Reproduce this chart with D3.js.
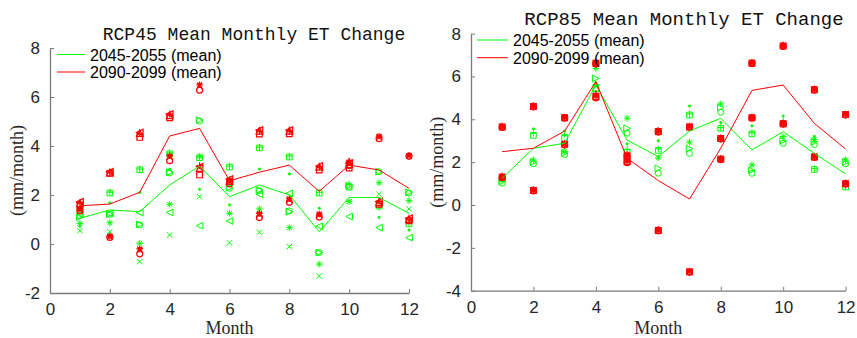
<!DOCTYPE html>
<html>
<head>
<meta charset="utf-8">
<script src="https://cdn.jsdelivr.net/npm/d3@7/dist/d3.min.js"></script>
<style>
	body { margin: 0; background: #fff; }
	svg { display: block; }
</style>
</head>
<body>
<div id="chart"></div>
<script>

// ---- data ----
var months = [1, 2, 3, 4, 5, 6, 7, 8, 9, 10, 11, 12];
var xTicks = [0, 2, 4, 6, 8, 10, 12];
var yTicks45 = [-2, 0, 2, 4, 6, 8];
var yTicks85 = [-4, -2, 0, 2, 4, 6, 8];
var legendLabels = ["2045-2055 (mean)", "2090-2099 (mean)"];

// RCP45, 2045-2055 (one row per model / marker)
var green45Markers = ["+", "s", "o", ".", ">", "<", "*", "x"];
var green45Values = [
	[1.42, 2.12, 3.06, 3.72, 3.56, 3.18, 3.95, 3.59, 2.11, 2.45, 1.50, 0.86],
	[1.38, 2.08, 3.03, 3.68, 3.52, 3.14, 3.92, 3.55, 2.08, 2.32, 1.55, 0.82],
	[1.15, 1.21, 0.78, 2.90, 5.02, 2.27, 2.17, 1.35, -0.35, 2.35, 2.95, 2.08],
	[0.72, 1.68, 2.10, 3.05, 2.23, 1.60, 3.06, 2.86, 1.46, 2.45, 1.09, 0.57],
	[1.10, 1.22, 0.80, 2.93, 5.06, 2.30, 2.20, 1.32, -0.35, 2.38, 2.95, 2.11],
	[1.20, 1.25, 1.28, 1.29, 0.75, 0.94, 2.03, 2.07, 0.73, 1.12, 0.67, 0.26],
	[0.84, 0.87, 0.03, 1.62, 3.56, 1.25, 1.43, 0.67, -0.82, 1.73, 2.50, 1.77],
	[0.54, 0.50, -0.72, 0.37, 1.93, 0.05, 0.48, -0.11, -1.31, 1.73, 2.03, 1.43]
];
var green45Mean = [1.05, 1.39, 1.32, 2.41, 3.18, 1.93, 2.41, 2.00, 0.50, 1.90, 1.90, 1.25];

// RCP45, 2090-2099
var red45Markers = ["+", "s", "<", "^", "*", "o", "x"];
var red45Values = [
	[1.68, 2.93, 4.50, 5.30, 3.20, 2.62, 4.60, 4.60, 3.15, 3.38, 1.75, 1.00],
	[1.58, 2.88, 4.35, 5.15, 2.82, 2.55, 4.49, 4.50, 3.02, 3.10, 1.62, 0.95],
	[1.72, 2.95, 4.55, 5.30, 3.15, 2.65, 4.65, 4.65, 3.18, 3.30, 1.73, 1.05],
	[1.66, 2.92, 4.52, 5.25, 3.10, 2.58, 4.62, 4.62, 3.15, 3.25, 1.70, 1.02],
	[1.42, 0.32, -0.20, 3.60, 6.50, 2.60, 1.25, 1.85, 1.22, 3.35, 4.40, 3.62],
	[1.35, 0.27, -0.40, 3.40, 6.28, 2.45, 1.08, 1.70, 1.10, 3.20, 4.30, 3.58],
	[1.40, 0.30, -0.25, 3.55, 6.45, 2.55, 1.20, 1.80, 1.18, 3.30, 4.36, 3.60]
];
var red45Mean = [1.56, 1.63, 2.11, 4.41, 4.72, 2.58, 2.93, 3.22, 2.15, 3.22, 3.02, 2.27];

// RCP85, 2045-2055
var green85Markers = ["+", "s", ".", "*", ">", "o"];
var green85Values = [
	[1.32, 3.35, 3.30, 5.62, 2.60, 2.62, 4.25, 3.62, 3.38, 3.90, 1.70, 0.88],
	[1.22, 3.25, 3.11, 5.45, 2.45, 2.55, 4.20, 3.58, 3.32, 3.80, 1.66, 0.84],
	[1.38, 3.55, 3.45, 5.70, 2.85, 3.00, 4.62, 3.85, 3.69, 4.15, 3.20, 2.15],
	[1.20, 2.10, 2.50, 6.38, 4.05, 2.20, 2.93, 4.72, 1.87, 3.19, 3.05, 2.10],
	[1.10, 2.00, 2.42, 5.91, 3.58, 1.71, 2.63, 4.55, 1.62, 3.00, 2.95, 2.00],
	[1.02, 1.92, 2.35, 5.40, 3.35, 1.48, 2.41, 4.33, 1.48, 2.88, 2.82, 1.92]
];
var green85Mean = [1.25, 2.65, 2.88, 5.60, 3.03, 2.26, 3.45, 4.05, 2.57, 3.42, 2.41, 1.45];

// RCP85, 2090-2099 (two models, several members each)
var red85Markers = ["+", "o", "*", "s", "x", "+", "o", "*", "s", "x"];
var red85Values = [
	[3.66, 4.62, 4.09, 6.64, 2.30, 3.45, 3.66, 3.11, 6.64, 7.44, 5.40, 4.23],
	[3.62, 4.58, 4.05, 6.58, 2.25, 3.40, 3.62, 3.08, 6.60, 7.40, 5.36, 4.20],
	[3.68, 4.64, 4.11, 6.66, 2.35, 3.47, 3.68, 3.13, 6.66, 7.46, 5.42, 4.25],
	[3.64, 4.60, 4.07, 6.62, 2.28, 3.43, 3.64, 3.10, 6.62, 7.42, 5.38, 4.22],
	[3.65, 4.61, 4.08, 6.61, 2.32, 3.44, 3.65, 3.12, 6.63, 7.43, 5.39, 4.24],
	[1.32, 0.70, 2.85, 5.20, 2.05, -1.17, -3.11, 2.15, 4.09, 3.81, 2.26, 1.01],
	[1.28, 0.66, 2.80, 5.00, 1.98, -1.21, -3.14, 2.12, 4.05, 3.77, 2.22, 0.98],
	[1.35, 0.72, 2.88, 5.10, 2.10, -1.14, -3.08, 2.17, 4.11, 3.83, 2.28, 1.03],
	[1.30, 0.68, 2.83, 5.05, 2.02, -1.19, -3.12, 2.14, 4.07, 3.79, 2.24, 0.99],
	[1.31, 0.69, 2.84, 5.12, 2.06, -1.18, -3.10, 2.16, 4.08, 3.80, 2.25, 1.00]
];
var red85Mean = [2.49, 2.65, 3.45, 5.76, 2.18, 1.14, 0.28, 2.65, 5.35, 5.60, 3.81, 2.61];


/*
 * MATLAB style line markers as custom d3 symbol types
 */
var markerTypes = {
	"+": { draw: function(c, s){ var r = Math.sqrt(s);
		c.moveTo(-r, 0); c.lineTo(r, 0); c.moveTo(0, -r); c.lineTo(0, r); } },
	"x": { draw: function(c, s){ var r = Math.sqrt(s) * 0.8;
		c.moveTo(-r, -r); c.lineTo(r, r); c.moveTo(-r, r); c.lineTo(r, -r); } },
	"*": { draw: function(c, s){ var r = Math.sqrt(s), q = r * 0.7;
		c.moveTo(-r, 0); c.lineTo(r, 0); c.moveTo(0, -r); c.lineTo(0, r);
		c.moveTo(-q, -q); c.lineTo(q, q); c.moveTo(-q, q); c.lineTo(q, -q); } },
	"o": { draw: function(c, s){ var r = Math.sqrt(s) * 0.9;
		c.moveTo(r, 0); c.arc(0, 0, r, 0, 2 * Math.PI); } },
	".": { draw: function(c, s){ var r = 1.1;
		c.moveTo(r, 0); c.arc(0, 0, r, 0, 2 * Math.PI); } },
	"s": { draw: function(c, s){ var r = Math.sqrt(s) * 0.85;
		c.rect(-r, -r, 2 * r, 2 * r); } },
	">": { draw: function(c, s){ var r = Math.sqrt(s);
		c.moveTo(r, 0); c.lineTo(-r, -r); c.lineTo(-r, r); c.closePath(); } },
	"<": { draw: function(c, s){ var r = Math.sqrt(s);
		c.moveTo(-r, 0); c.lineTo(r, -r); c.lineTo(r, r); c.closePath(); } },
	"^": { draw: function(c, s){ var r = Math.sqrt(s);
		c.moveTo(0, -r); c.lineTo(r, r); c.lineTo(-r, r); c.closePath(); } }
};

var svg = d3.select("#chart").append("svg")
	.attr("width", 857)
	.attr("height", 338)
	.style("background", "#fff");


/*
 * Panel - one MATLAB subplot
 */
Panel = function(_svg, _config){
	this.svg = _svg;
	this.config = _config;
	this.initVis();
}

Panel.prototype.initVis = function(){
	var vis = this;
	var cfg = vis.config;

	vis.g = vis.svg.append("g");

	vis.x = d3.scaleLinear().domain([0, 12]).range([cfg.left, cfg.right]);
	vis.y = d3.scaleLinear().domain(cfg.yDomain).range([cfg.bottom, cfg.top]);

	// axes (MATLAB: inward ticks, no box, plain hyphen minus)
	var fmt = function(d){ return String(d); };
	vis.xAxis = d3.axisBottom(vis.x).tickValues(xTicks).tickFormat(fmt)
		.tickSizeInner(-4).tickSizeOuter(0).tickPadding(10);
	vis.yAxis = d3.axisLeft(vis.y).tickValues(cfg.yTicks).tickFormat(fmt)
		.tickSizeInner(-4).tickSizeOuter(0).tickPadding(10);

	vis.g.append("g").attr("class", "x-axis")
		.attr("transform", "translate(0," + cfg.bottom + ")")
		.call(vis.xAxis);
	vis.g.append("g").attr("class", "y-axis")
		.attr("transform", "translate(" + cfg.left + ",0)")
		.call(vis.yAxis);

	vis.g.selectAll(".domain").attr("stroke", "#7a7a7a").attr("stroke-width", 1.3);
	vis.g.selectAll(".tick line").attr("stroke", "#7a7a7a").attr("stroke-width", 1);
	vis.g.selectAll(".tick text")
		.attr("fill", "#262626")
		.style("font-family", "'Liberation Sans', Arial, sans-serif")
		.style("font-size", "17px");
	vis.g.select(".x-axis").selectAll(".tick text").attr("dy", "0.71em");

	// title + labels
	vis.g.append("text")
		.attr("x", cfg.titleX).attr("y", cfg.titleY)
		.attr("text-anchor", "middle")
		.style("font-family", "'Liberation Mono', 'DejaVu Sans Mono', monospace")
		.style("font-size", cfg.titleSize + "px")
		.attr("fill", "#111")
		.text(cfg.title);

	vis.g.append("text")
		.attr("x", (cfg.left + cfg.right) / 2).attr("y", 334)
		.attr("text-anchor", "middle")
		.style("font-family", "'Liberation Serif', 'Times New Roman', serif")
		.style("font-size", "18px")
		.attr("fill", "#262626")
		.text("Month");

	vis.g.append("text")
		.attr("transform", "translate(" + cfg.ylabelX + "," + ((cfg.top + cfg.bottom) / 2) + ") rotate(-90)")
		.attr("text-anchor", "middle")
		.style("font-family", "'Liberation Serif', 'Times New Roman', serif")
		.style("font-size", "18px")
		.attr("fill", "#262626")
		.text("(mm/month)");

	vis.updateVis();
}

Panel.prototype.updateVis = function(){
	var vis = this;
	var cfg = vis.config;

	var line = d3.line()
		.x(function(d, i){ return vis.x(months[i]); })
		.y(function(d){ return vis.y(d); });

	// scatter of the individual models, drawn per period
	cfg.series.forEach(function(s){
		var pts = [];
		s.values.forEach(function(row, k){
			row.forEach(function(v, i){
				pts.push({ m: months[i], v: v, marker: s.markers[k] });
			});
		});

		vis.g.append("g").selectAll("path")
			.data(pts)
			.enter()
			.append("path")
			.attr("transform", function(d){ return "translate(" + vis.x(d.m) + "," + vis.y(d.v) + ")"; })
			.attr("d", function(d){ return d3.symbol().type(markerTypes[d.marker]).size(11)(); })
			.attr("fill", function(d){ return d.marker == "." ? s.color : "none"; })
			.attr("stroke", s.color)
			.attr("stroke-width", s.markerWidth);
	});

	// mean lines
	cfg.series.forEach(function(s){
		vis.g.append("path")
			.datum(s.mean)
			.attr("d", line)
			.attr("fill", "none")
			.attr("stroke", s.color)
			.attr("stroke-width", 1);
	});

	// legend
	var leg = vis.g.append("g");
	cfg.series.forEach(function(s, i){
		var ly = cfg.legendY + i * cfg.legendGap;
		leg.append("line")
			.attr("x1", cfg.legendX).attr("x2", cfg.legendX + cfg.legendLen)
			.attr("y1", ly).attr("y2", ly)
			.attr("stroke", s.color).attr("stroke-width", 1);
		leg.append("text")
			.attr("x", cfg.legendX + cfg.legendLen + 5).attr("y", ly + 6)
			.style("font-family", "'Liberation Sans', Arial, sans-serif")
			.style("font-size", "16px")
			.attr("fill", "#000")
			.text(legendLabels[i]);
	});
}


var panel45 = new Panel(svg, {
	title: "RCP45 Mean Monthly ET Change", titleX: 254, titleY: 40, titleSize: 18,
	left: 50, right: 409, top: 48, bottom: 293,
	yDomain: [-2, 8], yTicks: yTicks45, ylabelX: 23,
	legendX: 57, legendY: 54.5, legendGap: 17.5, legendLen: 28,
	series: [
		{ color: "#00ff00", markerWidth: 1, markers: green45Markers, values: green45Values, mean: green45Mean },
		{ color: "#ff0000", markerWidth: 1.2, markers: red45Markers, values: red45Values, mean: red45Mean }
	]
});

var panel85 = new Panel(svg, {
	title: "RCP85 Mean Monthly ET Change", titleX: 684, titleY: 25, titleSize: 19,
	left: 471, right: 845.6, top: 33.6, bottom: 290.7,
	yDomain: [-4, 8], yTicks: yTicks85, ylabelX: 443,
	legendX: 477, legendY: 40, legendGap: 17.7, legendLen: 31,
	series: [
		{ color: "#00ff00", markerWidth: 1, markers: green85Markers, values: green85Values, mean: green85Mean },
		{ color: "#ff0000", markerWidth: 1.3, markers: red85Markers, values: red85Values, mean: red85Mean }
	]
});

</script>
</body>
</html>
